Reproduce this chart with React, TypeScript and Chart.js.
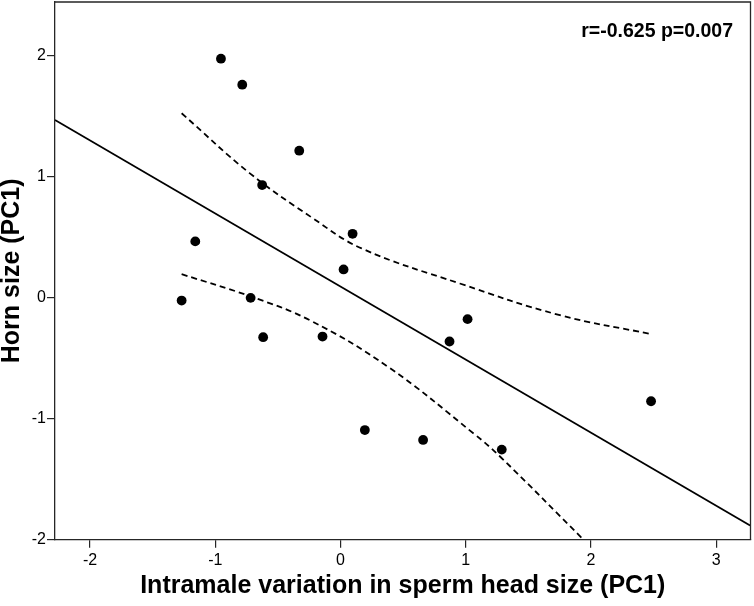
import React, { useEffect, useRef } from "react";
import { Chart, registerables } from "chart.js";

Chart.register(...registerables);

// Observed points: intramale variation in sperm head size (PC1) vs horn size (PC1)
const pointX = [-0.955, -0.785, -0.33, -0.626, -1.16, 0.096, 0.024, -1.269, -0.718, -0.618, -0.144, 0.194, 1.014, 0.87, 0.659, 1.287, 2.479];
const pointY = [1.978, 1.763, 1.217, 0.933, 0.467, 0.53, 0.235, -0.022, 0.0, -0.325, -0.32, -1.093, -0.176, -0.361, -1.175, -1.255, -0.855];

// Regression line endpoints (read at the plot edges)
const fitX = [-2.28, 3.27];
const fitY = [1.471, -1.882];

// Confidence band (dashed)
const upperX = [-1.269, -0.724, -0.219, 0.168, 0.952, 1.751, 2.482];
const upperY = [1.527, 1.03, 0.657, 0.409, 0.119, -0.143, -0.3];
const lowerX = [-1.269, -0.724, -0.245, 0.38, 1.064, 1.277, 1.94];
const lowerY = [0.196, 0.014, -0.185, -0.571, -1.123, -1.316, -2.0];

const xTicks = [-2, -1, 0, 1, 2, 3];
const yTicks = [-2, -1, 0, 1, 2];
const xRange = [-2.28, 3.273];
const yRange = [-2, 2.447];

const xTitle = "Intramale variation in sperm head size (PC1)";
const yTitle = "Horn size (PC1)";
const statText = "r=-0.625 p=0.007";

const FONT = "'Liberation Sans', Arial, Helvetica, sans-serif";
const AXIS_COLOR = "#262626";

const zip = (xs: number[], ys: number[]) => xs.map((x, i) => ({ x, y: ys[i] }));

const frameAndText = {
  id: "frameAndText",
  afterDraw(chart: any) {
    const { ctx, chartArea } = chart;
    ctx.save();
    ctx.strokeStyle = AXIS_COLOR;
    ctx.lineWidth = 1.3;
    ctx.beginPath();
    ctx.moveTo(chartArea.left, chartArea.top);
    ctx.lineTo(chartArea.right, chartArea.top);
    ctx.lineTo(chartArea.right, chartArea.bottom);
    ctx.stroke();
    ctx.fillStyle = "#000";
    ctx.font = `bold 19.5px ${FONT}`;
    ctx.textAlign = "right";
    ctx.textBaseline = "alphabetic";
    ctx.fillText(statText, chartArea.right - 17.5, chartArea.top + 34.5);
    ctx.restore();
  },
};

export default function App() {
  const canvasRef = useRef<HTMLCanvasElement | null>(null);

  useEffect(() => {
    document.body.style.margin = "0";
    const canvas = canvasRef.current;
    if (!canvas) return;
    const chart = new Chart(canvas, {
      type: "scatter",
      data: {
        datasets: [
          {
            label: "points",
            data: zip(pointX, pointY),
            backgroundColor: "#000",
            borderWidth: 0,
            pointRadius: 4.9,
            pointHoverRadius: 4.9,
          },
          {
            label: "fit",
            data: zip(fitX, fitY),
            showLine: true,
            borderColor: "#000",
            borderWidth: 1.8,
            pointRadius: 0,
            fill: false,
          },
          {
            label: "upper",
            data: zip(upperX, upperY),
            showLine: true,
            borderColor: "#000",
            borderWidth: 1.8,
            borderDash: [6, 4],
            pointRadius: 0,
            tension: 0.4,
            fill: false,
          },
          {
            label: "lower",
            data: zip(lowerX, lowerY),
            showLine: true,
            borderColor: "#000",
            borderWidth: 1.8,
            borderDash: [6, 4],
            pointRadius: 0,
            tension: 0.4,
            fill: false,
          },
        ],
      },
      options: {
        animation: false,
        responsive: true,
        maintainAspectRatio: false,
        layout: { autoPadding: false, padding: { top: 2, right: 3.5, bottom: 0, left: 0 } },
        plugins: {
          legend: { display: false },
          tooltip: { enabled: false },
          title: { display: false },
        },
        scales: {
          x: {
            type: "linear",
            min: xRange[0],
            max: xRange[1],
            afterBuildTicks: (scale: any) => {
              scale.ticks = xTicks.map((v) => ({ value: v }));
            },
            afterFit: (scale: any) => {
              scale.height = 66.3;
              scale.paddingLeft = 0;
              scale.paddingRight = 0;
            },
            grid: {
              display: true,
              drawOnChartArea: false,
              drawTicks: true,
              tickLength: 8,
              color: AXIS_COLOR,
              lineWidth: 1.2,
            },
            border: { display: true, color: AXIS_COLOR, width: 1.3 },
            ticks: {
              padding: 3.5,
              color: "#000",
              font: { family: FONT, size: 16 },
              maxRotation: 0,
            },
            title: {
              display: true,
              text: xTitle,
              color: "#000",
              font: { family: FONT, size: 25, weight: "bold", lineHeight: 1.2 },
              padding: { top: 0, bottom: 4.7 },
            },
          },
          y: {
            type: "linear",
            min: yRange[0],
            max: yRange[1],
            afterBuildTicks: (scale: any) => {
              scale.ticks = yTicks.map((v) => ({ value: v }));
            },
            afterFit: (scale: any) => {
              scale.width = 55;
              scale.paddingTop = 0;
              scale.paddingBottom = 0;
            },
            grid: {
              display: true,
              drawOnChartArea: false,
              drawTicks: true,
              tickLength: 8,
              color: AXIS_COLOR,
              lineWidth: 1.2,
            },
            border: { display: true, color: AXIS_COLOR, width: 1.3 },
            ticks: {
              padding: 1,
              color: "#000",
              font: { family: FONT, size: 16 },
            },
            title: {
              display: true,
              text: yTitle,
              color: "#000",
              font: { family: FONT, size: 25, weight: "bold", lineHeight: 1.0 },
              padding: { top: 0, bottom: 0 },
            },
          },
        },
      },
      plugins: [frameAndText],
    });
    return () => chart.destroy();
  }, []);

  return (
    <div style={{ width: 754, height: 606, position: "relative", background: "#fff" }}>
      <canvas ref={canvasRef} />
    </div>
  );
}
